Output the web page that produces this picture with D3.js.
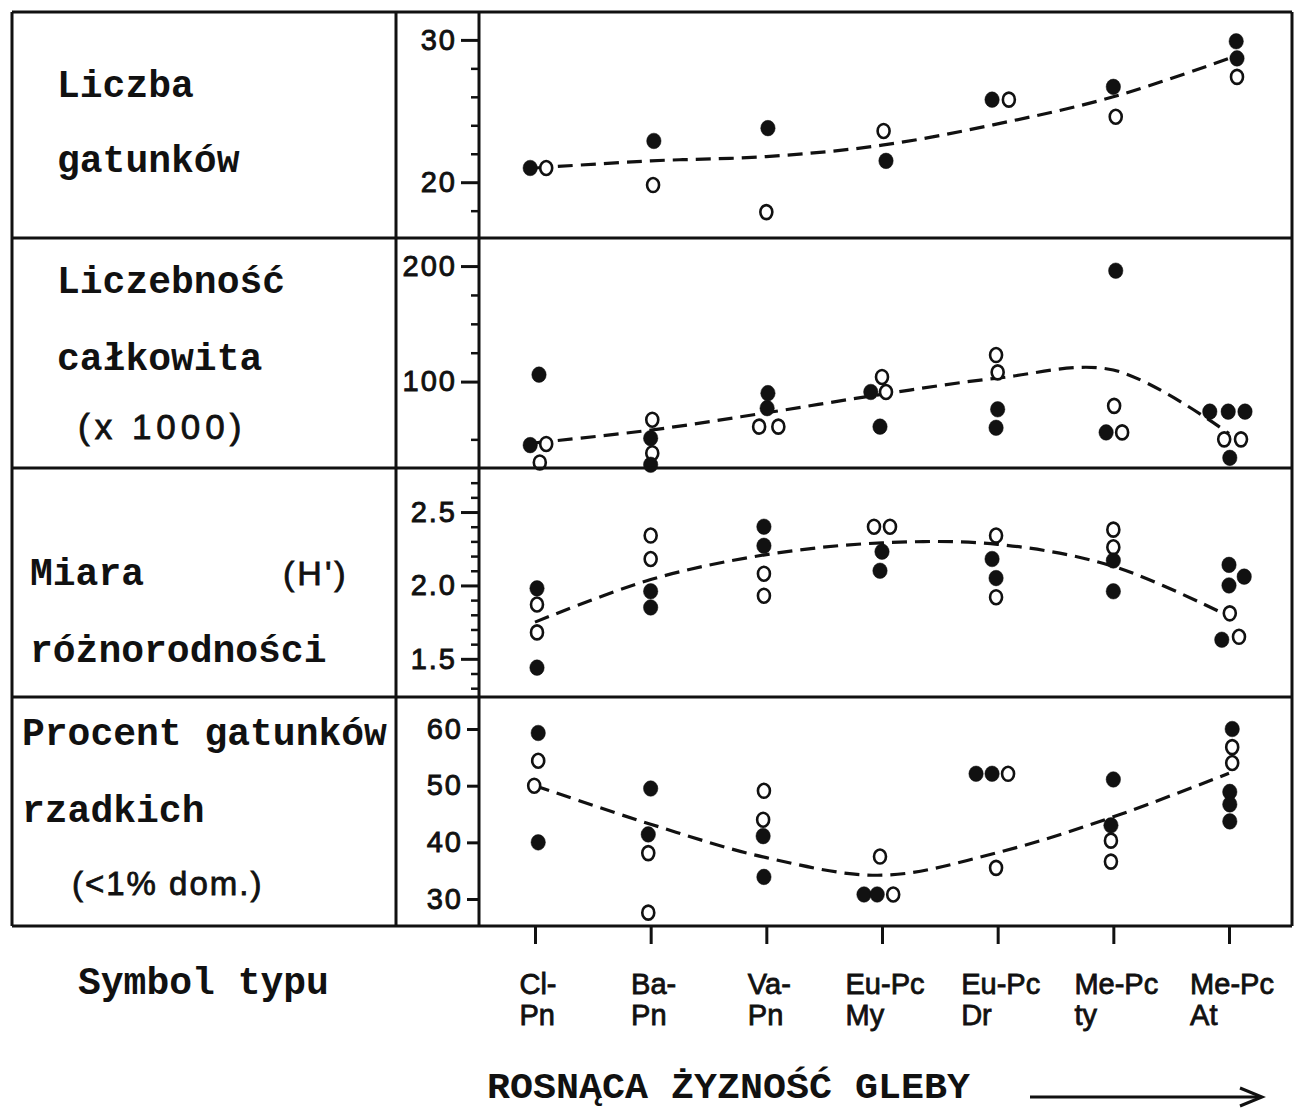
<!DOCTYPE html>
<html><head><meta charset="utf-8">
<script src="https://cdn.jsdelivr.net/npm/d3@7"></script>
<style>
html,body{margin:0;padding:0;background:#fff;}
svg{display:block;}
</style></head>
<body>
<svg id="chart" width="1301" height="1108"></svg>
<script>
// ---------------- DATA ----------------
const categories = ["Cl-Pn","Ba-Pn","Va-Pn","Eu-Pc My","Eu-Pc Dr","Me-Pc ty","Me-Pc At"];
const catLine1 = ["Cl-","Ba-","Va-","Eu-Pc","Eu-Pc","Me-Pc","Me-Pc"];
const catLine2 = ["Pn","Pn","Pn","My","Dr","ty","At"];

// points: [category index, value, "F" filled / "O" open, side-by-side slot]
const speciesPts = [
  [0,21.0,"F",-0.6],[0,21.0,"O",1.4],
  [1,22.9,"F",0.4],[1,19.8,"O",0.3],
  [2,23.8,"F",0.2],[2,17.9,"O",0],
  [3,23.6,"O",0.2],[3,21.5,"F",0.5],
  [4,25.8,"F",-0.7],[4,25.8,"O",1.4],
  [5,26.7,"F",0],[5,24.6,"O",0.3],
  [6,29.9,"F",0.9],[6,28.7,"F",1],[6,27.4,"O",1]
];
const speciesFit = [21.0,21.5,21.8,22.6,24.1,26.0,28.7];
const speciesTicks = [20,30];
const speciesMinor = [18,22,24,26,28];

const abundPts = [
  [0,45,"F",-0.6],[0,106,"F",0.5],[0,46,"O",1.4],[0,30,"O",0.6],
  [1,67,"O",0.2],[1,51,"F",0],[1,38,"O",0.2],[1,28,"F",0],
  [2,90,"F",0.2],[2,77,"F",0.1],[2,61,"O",-0.9],[2,61,"O",1.5],
  [3,91,"F",-1.4],[3,104,"O",0],[3,91,"O",0.5],[3,61,"F",-0.25],
  [4,123,"O",-0.2],[4,108,"O",0],[4,76,"F",0],[4,60,"F",-0.2],
  [5,196,"F",0.3],[5,79,"O",0.1],[5,56,"F",-0.9],[5,56,"O",1.1],
  [6,74,"F",-2.4],[6,74,"F",-0.1],[6,74,"F",2],[6,50,"O",-0.6],[6,50,"O",1.5],[6,34,"F",0.1]
];
const abundFit = [47,58,73,89,103,110,55];
const abundTicks = [100,200];
const abundMinor = [50,125,150,175];

const divPts = [
  [0,1.98,"F",0.25],[0,1.87,"O",0.25],[0,1.68,"O",0.25],[0,1.44,"F",0.25],
  [1,2.34,"O",0],[1,2.18,"O",0],[1,1.96,"F",0],[1,1.85,"F",0],
  [2,2.40,"F",-0.3],[2,2.27,"F",-0.3],[2,2.08,"O",-0.3],[2,1.93,"O",-0.3],
  [3,2.40,"O",-1],[3,2.40,"O",1],[3,2.23,"F",0],[3,2.10,"F",-0.25],
  [4,2.34,"O",-0.2],[4,2.18,"F",-0.7],[4,2.05,"F",-0.2],[4,1.92,"O",-0.2],
  [5,2.38,"O",0],[5,2.26,"O",0],[5,2.17,"F",0],[5,1.96,"F",0],
  [6,2.14,"F",0],[6,2.00,"F",0],[6,2.06,"F",1.9],[6,1.81,"O",0.1],[6,1.63,"F",-0.9],[6,1.65,"O",1.25]
];
const divFit = [1.75,2.04,2.21,2.29,2.28,2.13,1.79];
const divTicks = [1.5,2.0,2.5];
const divMinor = [1.3,1.4,1.6,1.7,1.8,1.9,2.1,2.2,2.3,2.4,2.6,2.7];

const rarePts = [
  [0,59.3,"F",0.4],[0,54.4,"O",0.4],[0,50.0,"O",-0.1],[0,40.0,"F",0.4],
  [1,49.5,"F",0],[1,41.4,"F",-0.3],[1,38.1,"O",-0.3],[1,27.6,"O",-0.3],
  [2,49.1,"O",-0.3],[2,44.0,"O",-0.4],[2,41.1,"F",-0.4],[2,33.9,"F",-0.3],
  [3,37.5,"O",-0.25],[3,30.8,"F",-2.25],[3,30.8,"F",-0.6],[3,30.8,"O",1.4],
  [4,52.1,"F",-2.7],[4,52.1,"F",-0.7],[4,52.1,"O",1.3],[4,35.5,"O",-0.2],
  [5,51.1,"F",0],[5,43.0,"F",-0.3],[5,40.3,"O",-0.3],[5,36.6,"O",-0.3],
  [6,60.0,"F",0.4],[6,56.8,"O",0.4],[6,54.0,"O",0.4],[6,48.9,"F",0.1],[6,46.7,"F",0.1],[6,43.7,"F",0.1]
];
const rareFit = [50,43.2,37.3,34.2,38.2,44.5,52.2];
const rareTicks = [30,40,50,60];
const rareMinor = [];

const panelLabels = [
  [{t:"Liczba",x:57,y:97,f:"m"},{t:"gatunków",x:57,y:172,f:"m"}],
  [{t:"Liczebność",x:57,y:293,f:"m"},{t:"całkowita",x:57,y:370,f:"m"},{t:"(x 1000)",x:78,y:439,f:"s1"}],
  [{t:"Miara",x:30,y:585,f:"m"},{t:"(H')",x:283,y:585,f:"s2"},{t:"różnorodności",x:30,y:662,f:"m"}],
  [{t:"Procent gatunków",x:22,y:745,f:"m"},{t:"rzadkich",x:22,y:822,f:"m"},{t:"(<1% dom.)",x:72,y:895,f:"s3"}]
];
const symbolLabel = "Symbol typu";
const axisTitle = "ROSNĄCA ŻYZNOŚĆ GLEBY";

// ---------------- LAYOUT ----------------
const svg = d3.select("#chart");
const Lx = 12, Cx = 396, Px = 479, Rx = 1292;
const bounds = [12, 238, 468, 697, 926];
const slotW = 8;

const x = d3.scalePoint().domain(d3.range(categories.length)).range([535, 1229]);

const panels = [
  {pts: speciesPts, fit: speciesFit, ticks: speciesTicks, minor: speciesMinor, dom:[16.08,31.96], fmt: d3.format("d"), tl:18},
  {pts: abundPts, fit: abundFit, ticks: abundTicks, minor: abundMinor, dom:[25.2,224.3], fmt: d3.format("d"), tl:18},
  {pts: divPts, fit: divFit, ticks: divTicks, minor: divMinor, dom:[1.24,2.80], fmt: d3.format(".1f"), tl:18},
  {pts: rarePts, fit: rareFit, ticks: rareTicks, minor: rareMinor, dom:[25.24,65.65], fmt: d3.format("d"), tl:12}
];

const black = "#111";

panels.forEach((p, i) => {
  const y = d3.scaleLinear().domain(p.dom).range([bounds[i+1], bounds[i]]);
  const g = svg.append("g");

  // major ticks
  const ax = g.append("g").attr("transform", `translate(${Px},0)`)
    .call(d3.axisLeft(y).tickValues(p.ticks).tickFormat(p.fmt).tickSize(p.tl).tickPadding(4));
  ax.select(".domain").remove();
  ax.selectAll(".tick line").attr("stroke", black).attr("stroke-width", 3);
  ax.selectAll(".tick text").attr("fill", black)
    .attr("stroke", black).attr("stroke-width", 0.9)
    .style("font-family", "'Liberation Sans', Arial, sans-serif")
    .style("font-size", "29px").style("letter-spacing", "2px");

  // minor ticks
  if (p.minor.length) {
    const mx = g.append("g").attr("transform", `translate(${Px},0)`)
      .call(d3.axisLeft(y).tickValues(p.minor).tickFormat("").tickSize(8));
    mx.select(".domain").remove();
    mx.selectAll(".tick line").attr("stroke", black).attr("stroke-width", 2.5);
  }

  // dashed fit line
  const line = d3.line()
    .x((d, k) => x(k))
    .y(d => y(d))
    .curve(d3.curveCatmullRom.alpha(0.5));
  g.append("path").datum(p.fit)
    .attr("d", line)
    .attr("fill", "none").attr("stroke", black)
    .attr("stroke-width", 3.2).attr("stroke-dasharray", "15,8");

  // points
  g.selectAll("ellipse.pt").data(p.pts).join("ellipse")
    .attr("class", "pt")
    .attr("cx", d => x(d[0]) + d[3] * slotW)
    .attr("cy", d => y(d[1]))
    .attr("rx", d => d[2] === "F" ? 7.2 : 6)
    .attr("ry", d => d[2] === "F" ? 7.8 : 7)
    .attr("fill", d => d[2] === "F" ? black : "#fff")
    .attr("stroke", black)
    .attr("stroke-width", d => d[2] === "F" ? 0.5 : 2.6);
});

// ---------------- FRAME ----------------
const frame = svg.append("g").attr("stroke", black).attr("stroke-width", 3).attr("fill", "none");
bounds.forEach(b => frame.append("line").attr("x1", Lx).attr("x2", Rx).attr("y1", b).attr("y2", b));
[Lx, Cx, Px, Rx].forEach(v => frame.append("line").attr("x1", v).attr("x2", v).attr("y1", bounds[0]).attr("y2", bounds[4]));

// bottom category axis ticks
const xb = svg.append("g").attr("transform", `translate(0,${bounds[4]})`)
  .call(d3.axisBottom(x).tickFormat("").tickSize(18));
xb.select(".domain").remove();
xb.selectAll(".tick line").attr("stroke", black).attr("stroke-width", 3);

// category labels (two lines)
const catG = svg.append("g")
  .style("font-family", "'Liberation Sans', Arial, sans-serif")
  .style("font-size", "29px").attr("fill", black)
  .attr("stroke", black).attr("stroke-width", 0.8);
categories.forEach((c, k) => {
  const t1 = catG.append("text").attr("y", 994).text(catLine1[k]);
  const w = t1.node().getComputedTextLength();
  const sx = x(k) + 3 - w / 2;
  t1.attr("x", sx);
  catG.append("text").attr("x", sx).attr("y", 1025).text(catLine2[k]);
});

// left labels
const fonts = {
  m: {fam: "'Liberation Mono', 'Courier New', monospace", size: "38px", w: "bold", ls: "0px", sw: 0},
  s1: {fam: "'Liberation Sans', Arial, sans-serif", size: "35px", w: "normal", ls: "5px", sw: 0.8},
  s2: {fam: "'Liberation Sans', Arial, sans-serif", size: "34px", w: "normal", ls: "3px", sw: 0.8},
  s3: {fam: "'Liberation Sans', Arial, sans-serif", size: "33px", w: "normal", ls: "2px", sw: 0.8}
};
panelLabels.flat().forEach(l => {
  const f = fonts[l.f];
  svg.append("text").attr("x", l.x).attr("y", l.y).text(l.t)
    .attr("fill", black)
    .attr("stroke", f.sw ? black : "none").attr("stroke-width", f.sw)
    .style("font-family", f.fam).style("font-size", f.size)
    .style("font-weight", f.w).style("letter-spacing", f.ls);
});

svg.append("text").attr("x", 78).attr("y", 994).text(symbolLabel)
  .attr("fill", black)
  .style("font-family", "'Liberation Mono', 'Courier New', monospace")
  .style("font-size", "38px").style("font-weight", "bold");

svg.append("text").attr("x", 487).attr("y", 1098).text(axisTitle)
  .attr("fill", black)
  .attr("textLength", 483).attr("lengthAdjust", "spacingAndGlyphs")
  .style("font-family", "'Liberation Mono', 'Courier New', monospace")
  .style("font-size", "36px").style("font-weight", "bold");

// arrow
svg.append("line").attr("x1", 1030).attr("x2", 1258).attr("y1", 1097).attr("y2", 1097)
  .attr("stroke", black).attr("stroke-width", 3);
svg.append("path").attr("d", "M1240,1088 L1262,1097 L1240,1106")
  .attr("fill", "none").attr("stroke", black).attr("stroke-width", 3);
</script>
</body></html>
